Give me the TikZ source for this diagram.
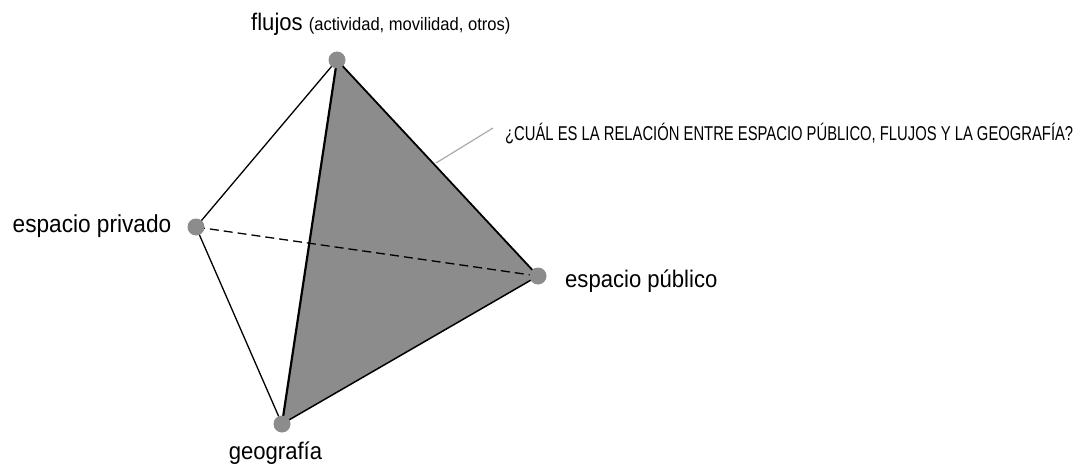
\documentclass[tikz,border=0pt]{standalone}
\usepackage{fontspec}
\setmainfont{Liberation Sans}[FakeStretch=0.92]
\newfontfamily\estrecha{Liberation Sans}[FakeStretch=0.74]
\definecolor{grisCara}{RGB}{140,140,140}
\definecolor{grisLinea}{RGB}{170,170,170}
\tikzset{
  vertice/.style={circle, fill=grisCara, inner sep=0pt, minimum size=17pt},
  arista/.style={black, line width=1.3pt},
  etiqueta/.style={inner sep=0pt, font=\fontsize{24}{28}\selectfont},
}
\begin{document}
\begin{tikzpicture}[x=1pt,y=-1pt]
	    \useasboundingbox (0,0) rectangle (1076,468);
	    
	    \coordinate (F) at (337,60);
	    \coordinate (R) at (196,227);
	    \coordinate (P) at (538,276);
	    \coordinate (G) at (282,424);
	    
	    % cara sombreada
		\fill [grisCara] (F) -- (P) -- (G) -- cycle;
		
		\draw [arista] (F) -- (R);
		\draw [arista] (R) -- (G);
		\draw [arista, dash pattern=on 9pt off 5pt] (R) -- (P);
		\draw [arista, line width=2.2pt] (F) -- (G);
		\draw [arista, line width=1.8pt] (F) -- (P);
		\draw [arista, line width=1.5pt] (P) -- (G);
		
	    \node [vertice] (flujos) at (F) {};
	    \node [vertice] (privado) at (R) {};
	    \node [vertice] (publico) at (P) {};
	    \node [vertice] (geo) at (G) {};
	    
	    \node [etiqueta, anchor=base west] (tflujos) at (251,31) {flujos {\fontsize{18}{20}\selectfont (actividad, movilidad, otros)}};
	    \node [etiqueta, anchor=base, font=\fontsize{24.6}{28}\selectfont] (tprivado) at (92,232) {espacio privado};
	    \node [etiqueta, anchor=base west] (tpublico) at (565,287) {espacio público};
	    \node [etiqueta, anchor=base] (tgeo) at (275.5,459) {geografía};
	    
	    \coordinate (C) at (436,163);
	    \node [inner sep=0pt, anchor=base west, font=\estrecha\fontsize{20}{22}\selectfont] (pregunta) at (505,140) {¿CUÁL ES LA RELACIÓN ENTRE ESPACIO PÚBLICO, FLUJOS Y LA GEOGRAFÍA?};
	    \draw [grisLinea, line width=1.2pt] (C) -- (493,128);
\end{tikzpicture}
\end{document}
